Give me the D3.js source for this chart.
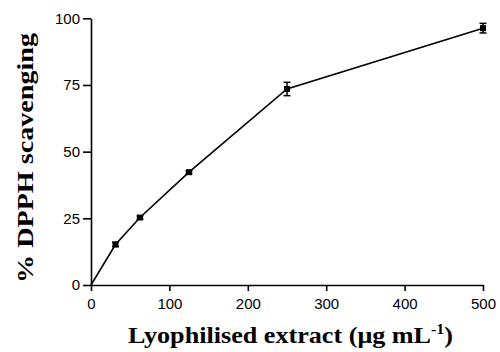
<!DOCTYPE html>
<html><head><meta charset="utf-8">
<script src="https://cdn.jsdelivr.net/npm/d3@7"></script>
<style>body{margin:0;background:#fff}</style>
</head><body>
<svg id="c" width="500" height="352"></svg>
<script>
const conc = [0, 31.25, 62.5, 125, 250, 500];
const scav = [0, 15.2, 25.3, 42.3, 73.5, 96.3];
const err = [0, 0.8, 0.6, 0.5, 2.5, 1.8];
const xTicks = [0, 100, 200, 300, 400, 500];
const yTicks = [0, 25, 50, 75, 100];

const svg = d3.select("#c");
const x = d3.scaleLinear().domain([0, 500]).range([91, 483]);
const y = d3.scaleLinear().domain([0, 100]).range([285, 18.3]);

const xAxis = svg.append("g").attr("transform", "translate(0,285)")
  .call(d3.axisBottom(x).tickValues(xTicks).tickSize(6).tickPadding(7).tickSizeOuter(0));
const yAxis = svg.append("g").attr("transform", "translate(91,0)")
  .call(d3.axisLeft(y).tickValues(yTicks).tickSize(8).tickPadding(3).tickSizeOuter(0));
[xAxis, yAxis].forEach(a => {
  a.select(".domain").attr("stroke", "#000").attr("stroke-width", 1.6);
  a.selectAll(".tick line").attr("stroke", "#000").attr("stroke-width", 1.6);
  a.selectAll(".tick text").attr("font-family", "Liberation Sans, Arial, sans-serif")
    .attr("font-size", 15).attr("fill", "#000");
});

const pts = conc.map((c, i) => ({c, v: scav[i], e: err[i]}));
svg.append("path").datum(pts)
  .attr("fill", "none").attr("stroke", "#000").attr("stroke-width", 1.6)
  .attr("d", d3.line().x(d => x(d.c)).y(d => y(d.v)));

const eb = svg.append("g").attr("stroke", "#000").attr("stroke-width", 1.5);
pts.filter(d => d.e > 0).forEach(d => {
  eb.append("line").attr("x1", x(d.c)).attr("x2", x(d.c)).attr("y1", y(d.v + d.e)).attr("y2", y(d.v - d.e));
  eb.append("line").attr("x1", x(d.c) - 3.5).attr("x2", x(d.c) + 3.5).attr("y1", y(d.v + d.e)).attr("y2", y(d.v + d.e));
  eb.append("line").attr("x1", x(d.c) - 3.5).attr("x2", x(d.c) + 3.5).attr("y1", y(d.v - d.e)).attr("y2", y(d.v - d.e));
});

svg.append("g").selectAll("rect").data(pts.filter(d => d.c > 0)).join("rect")
  .attr("x", d => x(d.c) - 3).attr("y", d => y(d.v) - 3)
  .attr("width", 6).attr("height", 6).attr("fill", "#000");

svg.append("text").attr("x", 290.5).attr("y", 343).attr("text-anchor", "middle")
  .attr("font-family", "Liberation Serif, Times New Roman, serif").attr("font-weight", "bold")
  .attr("font-size", 23).attr("textLength", 325).attr("lengthAdjust", "spacingAndGlyphs")
  .html('Lyophilised extract (μg mL<tspan dy="-9" font-size="14">-1</tspan><tspan dy="9">)</tspan>');

svg.append("text").attr("transform", "translate(33,158) rotate(-90)").attr("text-anchor", "middle")
  .attr("font-family", "Liberation Serif, Times New Roman, serif").attr("font-weight", "bold")
  .attr("font-size", 23).attr("textLength", 250).attr("lengthAdjust", "spacingAndGlyphs")
  .text("% DPPH scavenging");
</script>
</body></html>
